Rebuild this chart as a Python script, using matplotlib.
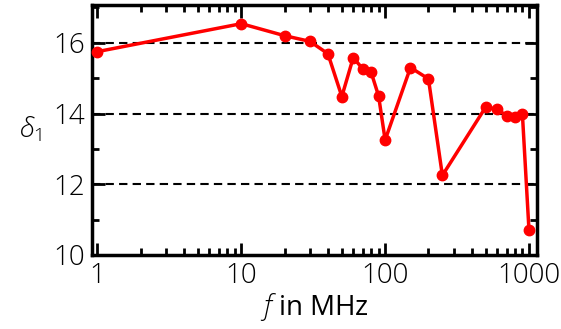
import matplotlib
matplotlib.use('Agg')
import matplotlib.pyplot as plt
from matplotlib.ticker import LogLocator, NullFormatter, MultipleLocator

freq = [1, 10, 20, 30, 40, 50, 60, 70, 80, 90, 100, 150, 200, 250,
        500, 600, 700, 800, 900, 1000]
delta1 = [15.75, 16.54, 16.2, 16.04, 15.69, 14.48, 15.58, 15.26, 15.16, 14.5,
          13.25, 15.3, 14.98, 12.25, 14.18, 14.12, 13.94, 13.9, 13.99, 10.71]
grid_levels = [12, 14, 16]

plt.rcParams['font.family'] = ['Open Sans', 'DejaVu Sans']
plt.rcParams['font.weight'] = 'light'
plt.rcParams['mathtext.fontset'] = 'custom'
plt.rcParams['mathtext.it'] = 'Open Sans:italic:light'
plt.rcParams['mathtext.rm'] = 'Open Sans:light'

fig = plt.figure(figsize=(5.61, 3.29), dpi=100)
ax = fig.add_axes([0.164, 0.225, 0.793, 0.76])

for g in grid_levels:
    ax.axhline(g, color='black', linestyle=(0, (4, 2.5)), linewidth=1.5, zorder=1)

ax.plot(freq, delta1, '-o', color='#ff0000', linewidth=2.5, markersize=7.5, zorder=3, clip_on=False)

ax.set_xscale('log')
ax.set_xlim(0.916, 1135)
ax.set_ylim(10, 17.07)
ax.yaxis.set_major_locator(MultipleLocator(2))
ax.yaxis.set_minor_locator(MultipleLocator(1))
ax.xaxis.set_minor_locator(LogLocator(base=10, subs=range(2, 10), numticks=20))
ax.xaxis.set_minor_formatter(NullFormatter())
ax.set_xticks([1, 10, 100, 1000])
ax.set_xticklabels(['1', '10', '100', '1000'])

for s in ax.spines.values():
    s.set_linewidth(2.5)
ax.tick_params(which='both', direction='in', top=True, right=True, width=2, labelsize=20, pad=5)
ax.tick_params(which='major', length=9)
ax.tick_params(which='minor', length=5)

ax.set_xlabel(r'$f$ in MHz', fontsize=20, labelpad=1)
ax.set_ylabel(r'$\delta_{\mathit{1}}$', fontsize=20, rotation=0, labelpad=16, va='center')

plt.savefig('out.png', dpi=100)
plt.close()
